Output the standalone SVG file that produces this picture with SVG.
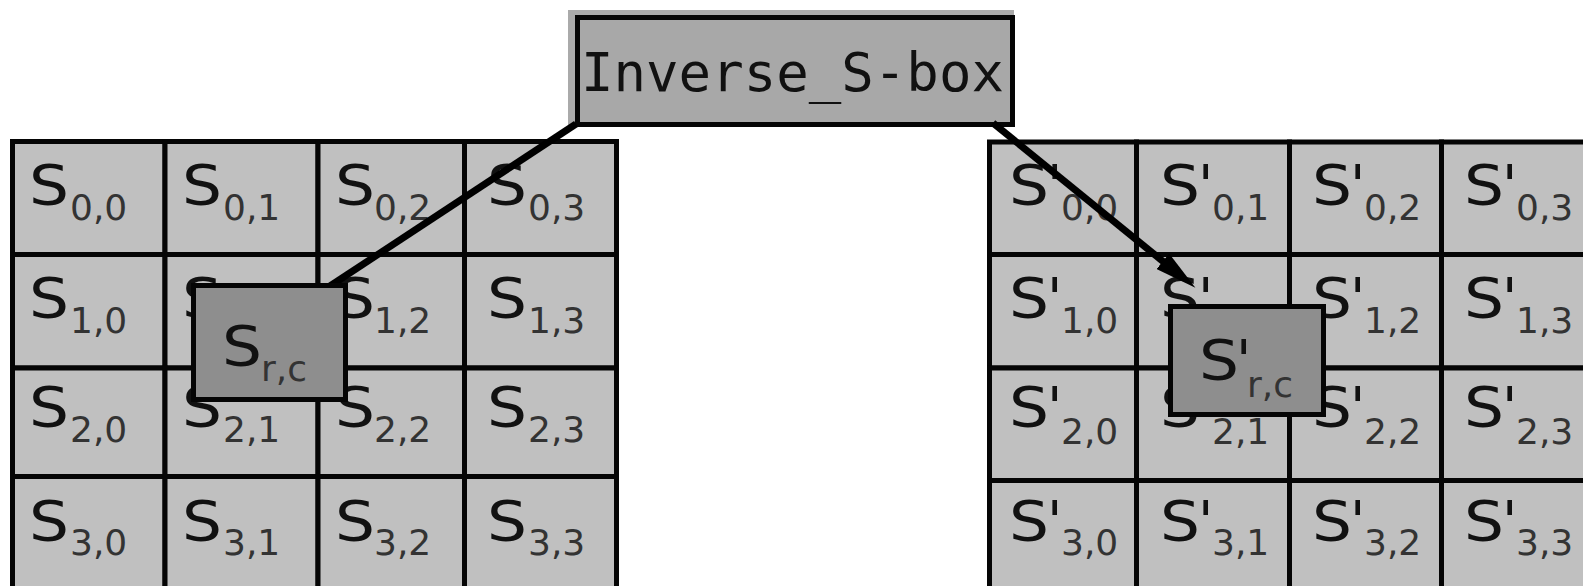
<svg xmlns="http://www.w3.org/2000/svg" width="1583" height="586" viewBox="0 0 1583 586">
  <defs>
    <style>
      .cell { fill: #c0c0c0; stroke: #050505; stroke-width: 5; }
      .pick { fill: #8e8e8e; stroke: #050505; stroke-width: 5; }
      .big { font-family: "DejaVu Sans", "Liberation Sans", sans-serif; font-size: 56px; fill: #111; }
      .sub { font-family: "DejaVu Sans", "Liberation Sans", sans-serif; font-size: 36px; fill: #333; }
      .title { font-family: "DejaVu Sans Mono", "Liberation Mono", monospace; font-size: 53px; fill: #111; }
      .wire { stroke: #000; stroke-width: 7; fill: none; }
    </style>
    <marker id="head" markerUnits="userSpaceOnUse" markerWidth="42" markerHeight="20" refX="17" refY="10" orient="auto">
      <path d="M0,0 L42,10 L0,20 z" fill="#000"/>
    </marker>
  </defs>

  <!-- state matrix before substitution -->
  <g id="state-in">
    <g id="s00"><rect class="cell" x="12.5" y="141.5" width="152.5" height="113"/><text class="big" x="29" y="204" textLength="40" lengthAdjust="spacingAndGlyphs">S</text><text class="sub" x="70" y="220">0,0</text></g>
    <g id="s01"><rect class="cell" x="165" y="141.5" width="153" height="113"/><text class="big" x="182" y="204" textLength="40" lengthAdjust="spacingAndGlyphs">S</text><text class="sub" x="223" y="220">0,1</text></g>
    <g id="s02"><rect class="cell" x="318" y="141.5" width="146.5" height="113"/><text class="big" x="335" y="204" textLength="40" lengthAdjust="spacingAndGlyphs">S</text><text class="sub" x="374" y="220">0,2</text></g>
    <g id="s03"><rect class="cell" x="464.5" y="141.5" width="152" height="113"/><text class="big" x="487" y="204" textLength="40" lengthAdjust="spacingAndGlyphs">S</text><text class="sub" x="528" y="220">0,3</text></g>

    <g id="s10"><rect class="cell" x="12.5" y="254.5" width="152.5" height="113.5"/><text class="big" x="29" y="317" textLength="40" lengthAdjust="spacingAndGlyphs">S</text><text class="sub" x="70" y="333">1,0</text></g>
    <g id="s11"><rect class="cell" x="165" y="254.5" width="153" height="113.5"/><text class="big" x="182" y="317" textLength="40" lengthAdjust="spacingAndGlyphs">S</text><text class="sub" x="223" y="333">1,1</text></g>
    <g id="s12"><rect class="cell" x="318" y="254.5" width="146.5" height="113.5"/><text class="big" x="335" y="317" textLength="40" lengthAdjust="spacingAndGlyphs">S</text><text class="sub" x="374" y="333">1,2</text></g>
    <g id="s13"><rect class="cell" x="464.5" y="254.5" width="152" height="113.5"/><text class="big" x="487" y="317" textLength="40" lengthAdjust="spacingAndGlyphs">S</text><text class="sub" x="528" y="333">1,3</text></g>

    <g id="s20"><rect class="cell" x="12.5" y="368" width="152.5" height="108.5"/><text class="big" x="29" y="426" textLength="40" lengthAdjust="spacingAndGlyphs">S</text><text class="sub" x="70" y="442">2,0</text></g>
    <g id="s21"><rect class="cell" x="165" y="368" width="153" height="108.5"/><text class="big" x="182" y="426" textLength="40" lengthAdjust="spacingAndGlyphs">S</text><text class="sub" x="223" y="442">2,1</text></g>
    <g id="s22"><rect class="cell" x="318" y="368" width="146.5" height="108.5"/><text class="big" x="335" y="426" textLength="40" lengthAdjust="spacingAndGlyphs">S</text><text class="sub" x="374" y="442">2,2</text></g>
    <g id="s23"><rect class="cell" x="464.5" y="368" width="152" height="108.5"/><text class="big" x="487" y="426" textLength="40" lengthAdjust="spacingAndGlyphs">S</text><text class="sub" x="528" y="442">2,3</text></g>

    <g id="s30"><rect class="cell" x="12.5" y="476.5" width="152.5" height="125"/><text class="big" x="29" y="540" textLength="40" lengthAdjust="spacingAndGlyphs">S</text><text class="sub" x="70" y="555">3,0</text></g>
    <g id="s31"><rect class="cell" x="165" y="476.5" width="153" height="125"/><text class="big" x="182" y="540" textLength="40" lengthAdjust="spacingAndGlyphs">S</text><text class="sub" x="223" y="555">3,1</text></g>
    <g id="s32"><rect class="cell" x="318" y="476.5" width="146.5" height="125"/><text class="big" x="335" y="540" textLength="40" lengthAdjust="spacingAndGlyphs">S</text><text class="sub" x="374" y="555">3,2</text></g>
    <g id="s33"><rect class="cell" x="464.5" y="476.5" width="152" height="125"/><text class="big" x="487" y="540" textLength="40" lengthAdjust="spacingAndGlyphs">S</text><text class="sub" x="528" y="555">3,3</text></g>
  </g>

  <!-- state matrix after substitution -->
  <g id="state-out">
    <g id="t00"><rect class="cell" x="989.5" y="142" width="147" height="112.5"/><text class="big" x="1009" y="204" textLength="40" lengthAdjust="spacingAndGlyphs">S</text><text class="big" x="1047" y="204">'</text><text class="sub" x="1061" y="220">0,0</text></g>
    <g id="t01"><rect class="cell" x="1136.5" y="142" width="153" height="112.5"/><text class="big" x="1160" y="204" textLength="40" lengthAdjust="spacingAndGlyphs">S</text><text class="big" x="1198" y="204">'</text><text class="sub" x="1212" y="220">0,1</text></g>
    <g id="t02"><rect class="cell" x="1289.5" y="142" width="152" height="112.5"/><text class="big" x="1312" y="204" textLength="40" lengthAdjust="spacingAndGlyphs">S</text><text class="big" x="1350" y="204">'</text><text class="sub" x="1364" y="220">0,2</text></g>
    <g id="t03"><rect class="cell" x="1441.5" y="142" width="155" height="112.5"/><text class="big" x="1464" y="204" textLength="40" lengthAdjust="spacingAndGlyphs">S</text><text class="big" x="1502" y="204">'</text><text class="sub" x="1516" y="220">0,3</text></g>

    <g id="t10"><rect class="cell" x="989.5" y="254.5" width="147" height="113.5"/><text class="big" x="1009" y="317" textLength="40" lengthAdjust="spacingAndGlyphs">S</text><text class="big" x="1047" y="317">'</text><text class="sub" x="1061" y="333">1,0</text></g>
    <g id="t11"><rect class="cell" x="1136.5" y="254.5" width="153" height="113.5"/><text class="big" x="1160" y="317" textLength="40" lengthAdjust="spacingAndGlyphs">S</text><text class="big" x="1198" y="317">'</text><text class="sub" x="1212" y="333">1,1</text></g>
    <g id="t12"><rect class="cell" x="1289.5" y="254.5" width="152" height="113.5"/><text class="big" x="1312" y="317" textLength="40" lengthAdjust="spacingAndGlyphs">S</text><text class="big" x="1350" y="317">'</text><text class="sub" x="1364" y="333">1,2</text></g>
    <g id="t13"><rect class="cell" x="1441.5" y="254.5" width="155" height="113.5"/><text class="big" x="1464" y="317" textLength="40" lengthAdjust="spacingAndGlyphs">S</text><text class="big" x="1502" y="317">'</text><text class="sub" x="1516" y="333">1,3</text></g>

    <g id="t20"><rect class="cell" x="989.5" y="368" width="147" height="112.5"/><text class="big" x="1009" y="426" textLength="40" lengthAdjust="spacingAndGlyphs">S</text><text class="big" x="1047" y="426">'</text><text class="sub" x="1061" y="444">2,0</text></g>
    <g id="t21"><rect class="cell" x="1136.5" y="368" width="153" height="112.5"/><text class="big" x="1160" y="426" textLength="40" lengthAdjust="spacingAndGlyphs">S</text><text class="big" x="1198" y="426">'</text><text class="sub" x="1212" y="444">2,1</text></g>
    <g id="t22"><rect class="cell" x="1289.5" y="368" width="152" height="112.5"/><text class="big" x="1312" y="426" textLength="40" lengthAdjust="spacingAndGlyphs">S</text><text class="big" x="1350" y="426">'</text><text class="sub" x="1364" y="444">2,2</text></g>
    <g id="t23"><rect class="cell" x="1441.5" y="368" width="155" height="112.5"/><text class="big" x="1464" y="426" textLength="40" lengthAdjust="spacingAndGlyphs">S</text><text class="big" x="1502" y="426">'</text><text class="sub" x="1516" y="444">2,3</text></g>

    <g id="t30"><rect class="cell" x="989.5" y="480.5" width="147" height="125"/><text class="big" x="1009" y="540" textLength="40" lengthAdjust="spacingAndGlyphs">S</text><text class="big" x="1047" y="540">'</text><text class="sub" x="1061" y="555">3,0</text></g>
    <g id="t31"><rect class="cell" x="1136.5" y="480.5" width="153" height="125"/><text class="big" x="1160" y="540" textLength="40" lengthAdjust="spacingAndGlyphs">S</text><text class="big" x="1198" y="540">'</text><text class="sub" x="1212" y="555">3,1</text></g>
    <g id="t32"><rect class="cell" x="1289.5" y="480.5" width="152" height="125"/><text class="big" x="1312" y="540" textLength="40" lengthAdjust="spacingAndGlyphs">S</text><text class="big" x="1350" y="540">'</text><text class="sub" x="1364" y="555">3,2</text></g>
    <g id="t33"><rect class="cell" x="1441.5" y="480.5" width="155" height="125"/><text class="big" x="1464" y="540" textLength="40" lengthAdjust="spacingAndGlyphs">S</text><text class="big" x="1502" y="540">'</text><text class="sub" x="1516" y="555">3,3</text></g>
  </g>

  <!-- lookup box -->
  <g id="inv-sbox">
    <rect x="568" y="10" width="446" height="116" fill="#aaaaaa"/>
    <rect x="577.5" y="17.5" width="435" height="107" fill="#a8a8a8" stroke="#050505" stroke-width="5"/>
    <text class="title" x="581" y="91" textLength="423" lengthAdjust="spacingAndGlyphs">Inverse_S-box</text>
  </g>

  <!-- connectors -->
  <g id="connectors">
    <line class="wire" x1="576" y1="124" x2="330" y2="286"/>
    <line class="wire" x1="993" y1="123" x2="1176" y2="272" marker-end="url(#head)"/>
  </g>

  <!-- selected byte, input side -->
  <g id="pick-in">
    <rect class="pick" x="193.5" y="285.5" width="152" height="114"/>
    <text class="big" x="222" y="365" textLength="40" lengthAdjust="spacingAndGlyphs">S</text>
    <text class="sub" x="261" y="381">r,c</text>
  </g>

  <!-- selected byte, output side -->
  <g id="pick-out">
    <rect class="pick" x="1170.5" y="306.5" width="153" height="108"/>
    <text class="big" x="1199" y="379" textLength="40" lengthAdjust="spacingAndGlyphs">S</text>
    <text class="big" x="1236" y="379">'</text>
    <text class="sub" x="1247" y="397">r,c</text>
  </g>
</svg>
